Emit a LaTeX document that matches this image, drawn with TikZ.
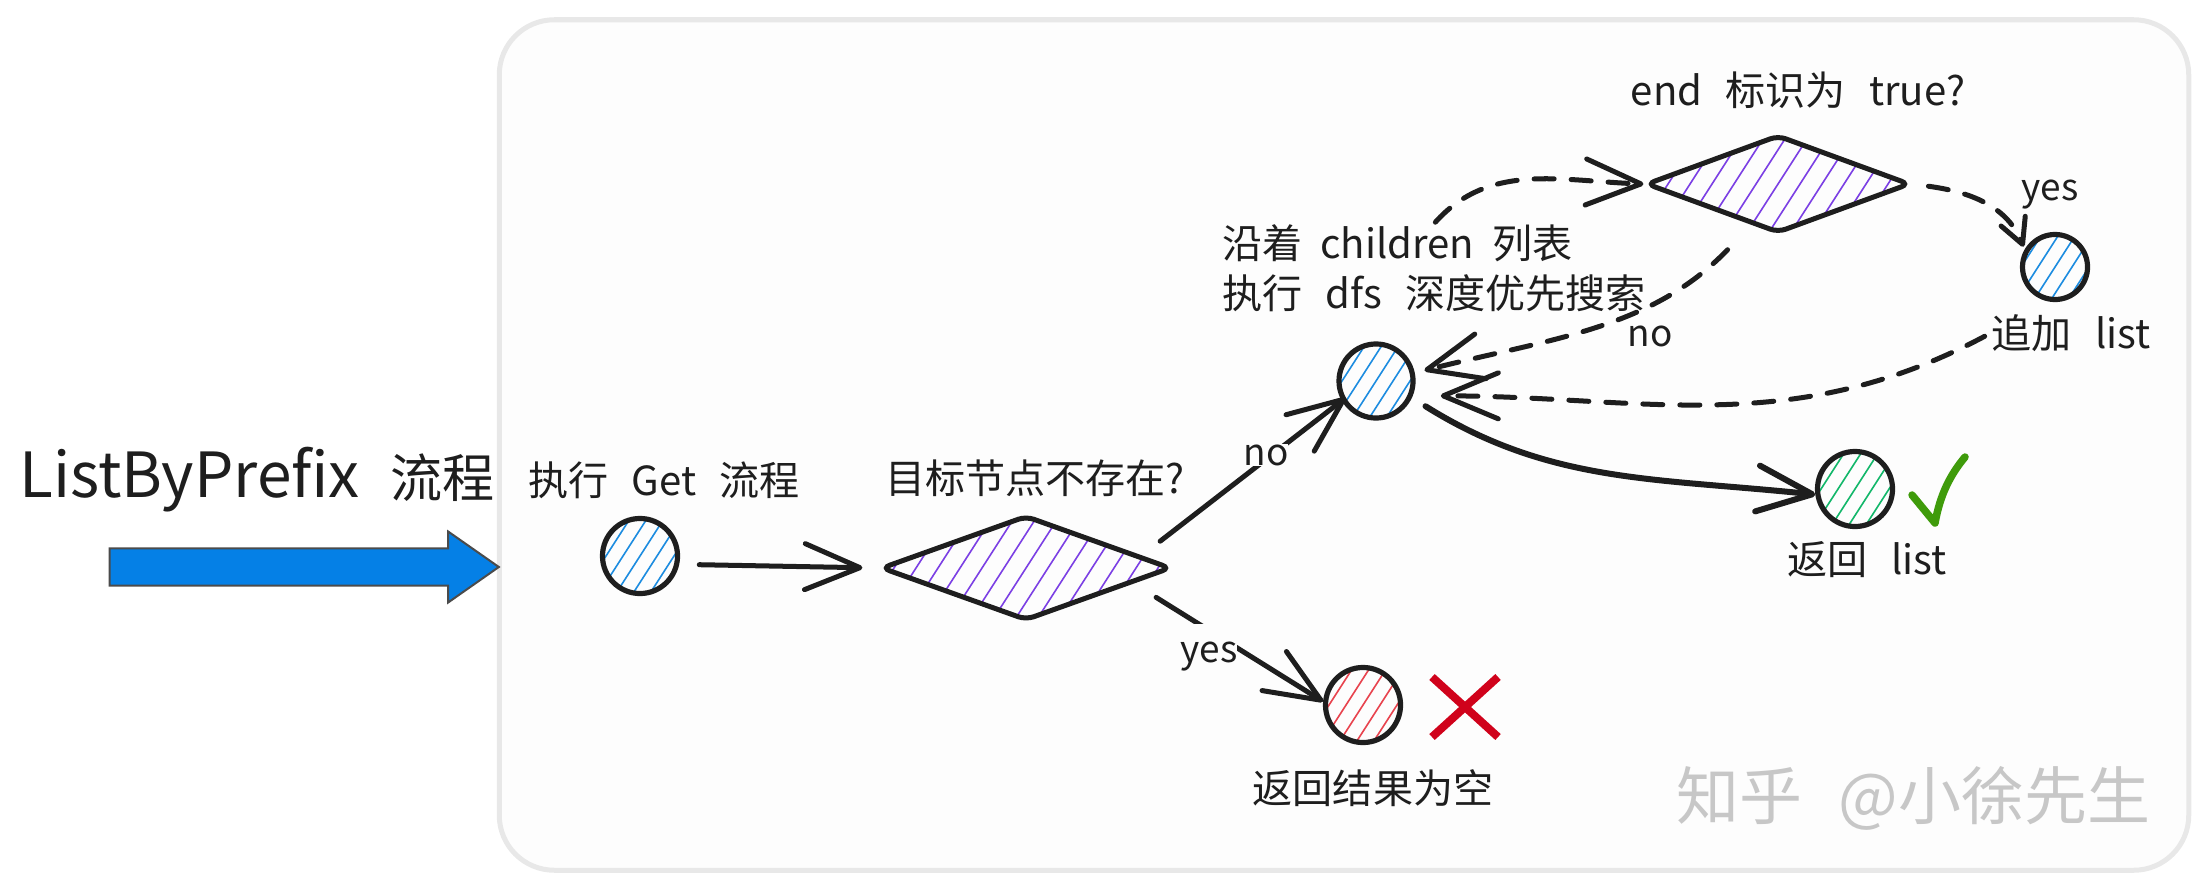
\documentclass[tikz,border=0pt]{standalone}
\usepackage{fontspec}
\setmainfont[WordSpace=2.6]{Noto Sans CJK SC}
\usetikzlibrary{shapes,arrows.meta,calc}

\definecolor{panelbg}{HTML}{FDFDFD}
\definecolor{panelline}{HTML}{E8E8E8}
\definecolor{inkblack}{HTML}{1E1E1E}
\definecolor{arrowblue}{HTML}{0580E6}
\definecolor{hatchblue}{HTML}{1C8CE0}
\definecolor{hatchpurple}{HTML}{7B3FE4}
\definecolor{hatchgreen}{HTML}{12B76A}
\definecolor{hatchred}{HTML}{E8434E}
\definecolor{crossred}{HTML}{D0021B}
\definecolor{checkgreen}{HTML}{3F9B0B}

\tikzset{
	hatched/.style n args={2}{path picture={
		\foreach \hx in {-9,...,9}
			\draw[draw=#1,line width=.016cm,line cap=round]
				($(path picture bounding box.center)+({\hx*#2-45},70)$) -- ++(90,-140);
	}},
	dotnode/.style={shape=circle,draw=inkblack,line width=.052cm,fill=panelbg,inner sep=0pt,
		hatched={#1}{17}},
	choice/.style={shape=diamond,draw=inkblack,line width=.05cm,fill=panelbg,inner sep=0pt,
		rounded corners=.08cm,hatched={hatchpurple}{22}},
	caption/.style={text=inkblack,inner sep=0pt,font=\fontsize{11.4}{14.2}\selectfont},
	tag/.style={caption,fill=panelbg,inner sep=0pt,font=\fontsize{10.5}{12}\selectfont},
	link/.style={draw=inkblack,line width=.05cm,line cap=round,
		-{Straight Barb[length=.55cm,width=.46cm,round]}},
	dashlink/.style={link,dash pattern=on .2cm off .17cm}
}

\begin{document}
\begin{tikzpicture}[x=.01cm,y=-.01cm]
	\useasboundingbox (0,0) rectangle (2207,888);
	% panel and title
	\node[draw=panelline,line width=.05cm,fill=panelbg,rounded corners=.55cm,
		minimum width=16.885cm,minimum height=8.5cm,inner sep=0pt] (panel) at (1344,445) {};
	\node[caption,font=\fontsize{14.8}{18}\selectfont] (title) at (257,480)
		{{\fontsize{17.7}{18}\selectfont ListByPrefix} 流程};
	\node[shape=single arrow,draw=inkblack!80,line width=.02cm,fill=arrowblue,inner xsep=0pt,inner ysep=.175cm,
		minimum height=3.89cm,single arrow head extend=.17cm,
		single arrow head indent=0cm,single arrow tip angle=70] (startarrow) at (291,567) {};

	% decisions and end points
	\node[dotnode=hatchblue,minimum size=.75cm] (getdot) at (640,556) {};
	\node[choice,minimum width=2.9cm,minimum height=1.05cm] (missing) at (1026,568) {};
	\node[dotnode=hatchblue,minimum size=.74cm] (dfsdot) at (1376,381) {};
	\node[choice,minimum width=2.64cm,minimum height=.98cm] (endflag) at (1778,184) {};
	\node[dotnode=hatchblue,minimum size=.65cm] (appenddot) at (2055,267) {};
	\node[dotnode=hatchgreen,minimum size=.75cm] (listdot) at (1855,489) {};
	\node[dotnode=hatchred,minimum size=.75cm] (emptydot) at (1363,705) {};

	% captions
	\foreach \capName/\capX/\capY/\capText in {
		getcap/664/480/执行 Get 流程,
		missingcap/1035/478/目标节点不存在?,
		endcap/1798/90/end 标识为 true?,
		appendcap/2071/333/追加 list,
		listcap/1867/560/返回 list,
		emptycap/1373/788/返回结果为空}
	{
		\node[caption] (\capName) at (\capX,\capY) {\capText};
	}
	\node[caption,align=left] (dfscap) at (1434,268) {{\spaceskip=.18cm 沿着 children 列表}\\执行 dfs 深度优先搜索};

	% connectors
	\draw[link,shorten <=.2cm,shorten >=.16cm] (getdot.-12) -- (missing.west);
	\draw[link,shorten <=.24cm,shorten >=-.05cm] (missing.6) -- (dfsdot.210);
	\draw[link,shorten <=.27cm] (missing.-8) -- (emptydot.175);
	\draw[link,line width=.06cm,shorten <=.16cm] (dfsdot.-25) to[out=-32,in=174] (listdot.188);
	\draw[dashlink,shorten <=.02cm] (dfscap.north) to[out=48,in=178] (endflag.west);
	\draw[dashlink,shorten <=.34cm,shorten >=.1cm] (endflag.-123) to[out=-134,in=14] (dfsdot.12);
	\draw[dashlink,shorten <=.07cm,shorten >=.28cm] (appendcap.west) to[out=208,in=0] (dfsdot.-22);
	\draw[dashlink,-{Straight Barb[length=.25cm,width=.26cm,round]},shorten <=.16cm,shorten >=.03cm]
		(endflag.east) to[out=-8,in=112] (appenddot.150);

	% labels on the connectors
	\node[tag] (nofirst) at (1266,455) {no};
	\node[tag,minimum height=.65cm] (yesfirst) at (1209,657) {yes};
	\node[tag] (nosecond) at (1650,336) {no};
	\node[caption,font=\fontsize{10.5}{12}\selectfont] (yessecond) at (2050,195) {yes};

	% marks
	\node[shape=cross out,draw=crossred,line width=.08cm,minimum width=.58cm,minimum height=.52cm,
		inner sep=0pt] (crossmark) at (1465,707) {};
	\draw[checkgreen,line width=.075cm,line cap=round,line join=round]
		(1912,495) -- (1935,523) .. controls (1940,495) and (1950,475) .. (1965,457);

	\node[text=black!22,inner sep=0pt,font=\fontsize{17.9}{22}\selectfont] (watermark) at (1913,798) {知乎 @小徐先生};
\end{tikzpicture}
\end{document}
